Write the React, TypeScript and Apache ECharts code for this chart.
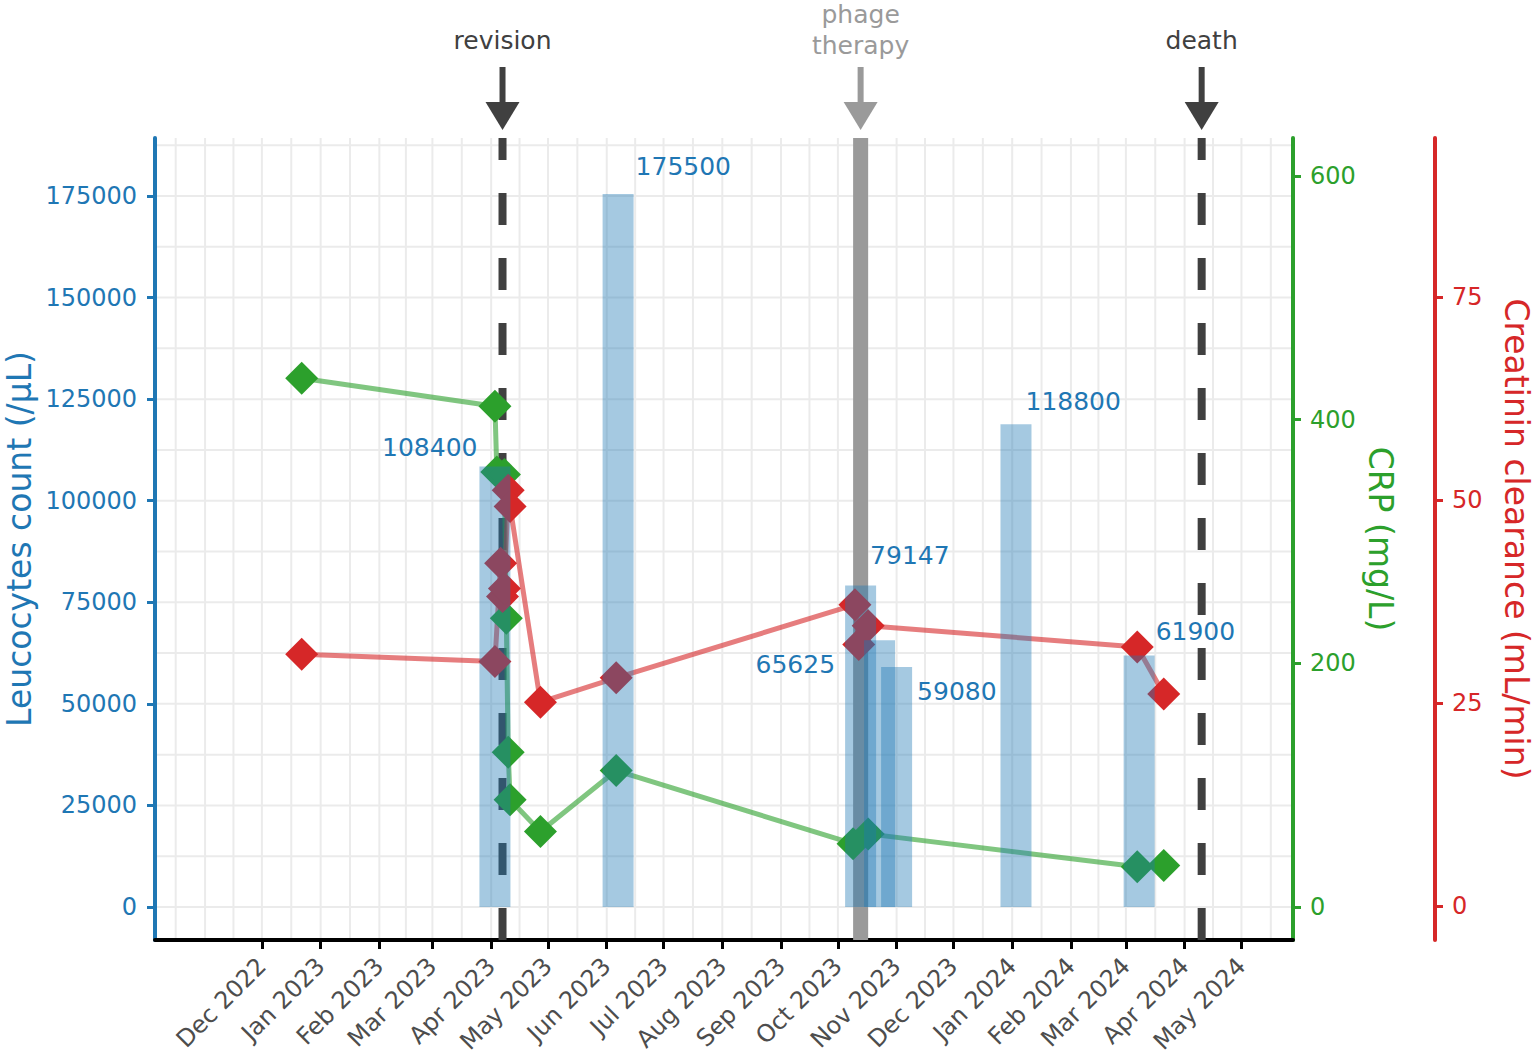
import React, { useEffect, useRef } from 'react';
import * as echarts from 'echarts';

// ---------- data ----------
const leucoDates = ['2023-04-03', '2023-06-07', '2023-10-13', '2023-10-23', '2023-11-01', '2024-01-03', '2024-03-08'];
const leucoValues = [108400, 175500, 79147, 65625, 59080, 118800, 61900];

const crpDates = ['2022-12-22', '2023-04-03', '2023-04-04', '2023-04-08', '2023-04-09', '2023-04-10', '2023-04-11', '2023-04-27', '2023-06-06', '2023-10-09', '2023-10-17', '2024-03-07', '2024-03-21'];
const crpValues = [434, 411, 357, 355, 237, 127, 88, 62, 112, 52, 60, 33, 34];

const creatDates = ['2022-12-22', '2023-04-03', '2023-04-06', '2023-04-07', '2023-04-08', '2023-04-10', '2023-04-11', '2023-04-27', '2023-06-06', '2023-10-10', '2023-10-12', '2023-10-17', '2024-03-07', '2024-03-21'];
const creatValues = [31.0, 30.1, 42.2, 38.1, 39.1, 51.2, 49.2, 25.1, 28.1, 37.1, 32.2, 34.5, 31.9, 26.1];

const eventDates = ['2023-04-07', '2023-10-13', '2024-04-10'];
const eventLabels = ['revision', 'phage\ntherapy', 'death'];

const monthTicks = ['2022-12-01', '2023-01-01', '2023-02-01', '2023-03-01', '2023-04-01', '2023-05-01', '2023-06-01', '2023-07-01', '2023-08-01', '2023-09-01', '2023-10-01', '2023-11-01', '2023-12-01', '2024-01-01', '2024-02-01', '2024-03-01', '2024-04-01', '2024-05-01'];
const monthLabels = ['Dec 2022', 'Jan 2023', 'Feb 2023', 'Mar 2023', 'Apr 2023', 'May 2023', 'Jun 2023', 'Jul 2023', 'Aug 2023', 'Sep 2023', 'Oct 2023', 'Nov 2023', 'Dec 2023', 'Jan 2024', 'Feb 2024', 'Mar 2024', 'Apr 2024', 'May 2024'];
const gridMonths = ['2022-10-01', '2022-11-01', ...monthTicks, '2024-06-01'];

const leucoTicks = [0, 25000, 50000, 75000, 100000, 125000, 150000, 175000];
const leucoGrid = [0, 12500, 25000, 37500, 50000, 62500, 75000, 87500, 100000, 112500, 125000, 137500, 150000, 162500, 175000, 187500];
const crpTicks = [0, 200, 400, 600];
const creatTicks = [0, 25, 50, 75];

// ---------- styling (kept apart from data) ----------
const FONT = 'DejaVu Sans';
const BLUE = '#1f77b4';
const GREEN = '#2ca02c';
const RED = '#d62728';
const GRID_COLOR = '#ebebeb';

// label placement per bar: side of bar, and offset from its top corner
const barLabelLayout = [
  { side: 'left', dx: -2, dy: -19 },
  { side: 'right', dx: 2, dy: -27 },
  { side: 'right', dx: -6, dy: -30 },
  { side: 'left', dx: -29, dy: 24 },
  { side: 'right', dx: 5, dy: 25 },
  { side: 'right', dx: -6, dy: -23 },
  { side: 'right', dx: 1, dy: -24 },
];

const eventStyle = [
  { line: '#404040', width: 8, dashed: true, arrow: '#404040', text: '#404040', textDy: -82 },
  { line: '#9a9a9a', width: 15, dashed: false, arrow: '#9a9a9a', text: '#9a9a9a', textDy: -77 },
  { line: '#404040', width: 8, dashed: true, arrow: '#404040', text: '#404040', textDy: -82 },
];

const toMs = (s: string) => {
  const [y, m, d] = s.split('-').map(Number);
  return Date.UTC(y, m - 1, d);
};

const XMIN = Date.UTC(2022, 9, 5, 14);
const XMAX = Date.UTC(2024, 4, 28, 5);
const LMIN = -8122, LMAX = 189273;
const CMIN = -27.1, CMAX = 631.2;
const RMIN = -4.19, RMAX = 94.58;

const tickMs = monthTicks.map(toMs);
const gridMs = gridMonths.map(toMs);
const vGrid: number[] = [];
for (let i = 0; i < gridMs.length; i++) {
  vGrid.push(gridMs[i]);
  if (i + 1 < gridMs.length) vGrid.push((gridMs[i] + gridMs[i + 1]) / 2);
}
const vGridIn = vGrid.filter((v) => v > XMIN && v < XMAX);

function buildOption(): any {
  const hGridSeries = {
    type: 'custom',
    name: 'hgrid',
    silent: true,
    z: 0,
    xAxisIndex: 0,
    yAxisIndex: 0,
    clip: false,
    data: leucoGrid.map((v) => [XMIN, v]),
    renderItem: (params: any, api: any) => {
      const cs = params.coordSys;
      const y = api.coord([api.value(0), api.value(1)])[1];
      return {
        type: 'line',
        shape: { x1: cs.x, y1: y, x2: cs.x + cs.width, y2: y },
        style: { stroke: GRID_COLOR, lineWidth: 2 },
      };
    },
  };
  const vGridSeries = {
    type: 'custom',
    name: 'vgrid',
    silent: true,
    z: 0,
    xAxisIndex: 0,
    yAxisIndex: 0,
    clip: false,
    data: vGridIn.map((v) => [v, 0]),
    renderItem: (params: any, api: any) => {
      const cs = params.coordSys;
      const x = api.coord([api.value(0), 0])[0];
      return {
        type: 'line',
        shape: { x1: x, y1: cs.y, x2: x, y2: cs.y + cs.height - 2 },
        style: { stroke: GRID_COLOR, lineWidth: 2 },
      };
    },
  };
  const eventSeries = {
    type: 'custom',
    name: 'events',
    silent: true,
    z: 1,
    xAxisIndex: 0,
    yAxisIndex: 0,
    clip: false,
    data: eventDates.map((d) => [toMs(d), 0]),
    renderItem: (params: any, api: any) => {
      const i = params.dataIndex;
      const st = eventStyle[i];
      const cs = params.coordSys;
      const x = api.coord([api.value(0), 0])[0];
      const top = cs.y;
      const bottom = cs.y + cs.height;
      return {
        type: 'group',
        children: [
          {
            type: 'line',
            shape: { x1: x, y1: bottom, x2: x, y2: top },
            style: { stroke: st.line, lineWidth: st.width, lineDash: st.dashed ? [32, 33] : null },
          },
          {
            type: 'line',
            shape: { x1: x, y1: top - 71, x2: x, y2: top - 30 },
            style: { stroke: st.arrow, lineWidth: 6 },
          },
          {
            type: 'polygon',
            shape: { points: [[x - 17, top - 36], [x + 17, top - 36], [x, top - 8]] },
            style: { fill: st.arrow },
          },
          {
            type: 'text',
            x: x,
            y: top + st.textDy,
            style: {
              text: eventLabels[i],
              fill: st.text,
              fontSize: 25,
              fontFamily: FONT,
              align: 'center',
              verticalAlign: 'bottom',
              lineHeight: 31,
            },
          },
        ],
      };
    },
  };

  const lineSeries = (name: string, dates: string[], values: number[], color: string, yIdx: number) => ({
    type: 'line',
    name,
    silent: true,
    z: 3,
    xAxisIndex: 0,
    yAxisIndex: yIdx,
    data: dates.map((d, i) => [toMs(d), values[i]]),
    symbol: 'diamond',
    symbolSize: 33,
    showAllSymbol: true,
    clip: false,
    lineStyle: { color, width: 5, opacity: 0.6 },
    itemStyle: { color, opacity: 1 },
  });

  const barSeries = {
    type: 'bar',
    name: 'Leucocytes',
    silent: true,
    z: 6,
    xAxisIndex: 0,
    yAxisIndex: 0,
    barWidth: 31,
    itemStyle: { color: 'rgba(31,119,180,0.4)' },
    data: leucoDates.map((d, i) => {
      const lay = barLabelLayout[i];
      return {
        value: [toMs(d), leucoValues[i]],
        label: {
          show: true,
          position: lay.side === 'left' ? [0, 0] : ['100%', 0],
          align: lay.side === 'left' ? 'right' : 'left',
          verticalAlign: 'middle',
          offset: [lay.dx, lay.dy],
          formatter: String(leucoValues[i]),
          color: BLUE,
          fontSize: 25,
          fontFamily: FONT,
        },
      };
    }),
  };

  const yAxisCommon = (color: string) => ({
    type: 'value',
    splitLine: { show: false },
    minorTick: { show: false },
    minorSplitLine: { show: false },
    nameMoveOverlap: false,
    axisLine: { show: true, onZero: false, lineStyle: { color, width: 4 } },
  });

  const plain = (v: number) => String(v);

  return {
    animation: false,
    backgroundColor: '#ffffff',
    grid: { left: 155, right: 242, top: 138, bottom: 124, containLabel: false, outerBoundsMode: 'none' },
    xAxis: {
      type: 'value',
      min: XMIN,
      max: XMAX,
      splitLine: { show: false },
      minorTick: { show: false },
      axisLine: { show: true, onZero: false, lineStyle: { color: '#000000', width: 4 } },
      axisTick: { show: true, customValues: tickMs, length: 9, lineStyle: { color: '#000000', width: 3 } },
      axisLabel: {
        customValues: tickMs,
        rotate: 45,
        margin: 22,
        color: '#4d4d4d',
        fontSize: 24,
        fontFamily: FONT,
        formatter: (v: number) => {
          const idx = tickMs.indexOf(v);
          return idx >= 0 ? monthLabels[idx] : '';
        },
      },
    },
    yAxis: [
      {
        ...yAxisCommon(BLUE),
        position: 'left',
        min: LMIN,
        max: LMAX,
        axisTick: { show: true, customValues: leucoTicks, length: 8, lineStyle: { color: BLUE, width: 3 } },
        axisLabel: { customValues: leucoTicks, formatter: plain, color: BLUE, fontSize: 24, fontFamily: FONT, margin: 18 },
        name: 'Leucocytes count (/µL)',
        nameLocation: 'middle',
        nameRotate: 90,
        nameGap: 119,
        nameTextStyle: { color: BLUE, fontSize: 33, fontFamily: FONT },
      },
      {
        ...yAxisCommon(GREEN),
        position: 'right',
        offset: 0,
        min: CMIN,
        max: CMAX,
        axisTick: { show: true, customValues: crpTicks, length: 8, lineStyle: { color: GREEN, width: 3 } },
        axisLabel: { customValues: crpTicks, formatter: plain, color: GREEN, fontSize: 24, fontFamily: FONT, margin: 17 },
        name: 'CRP (mg/L)',
        nameLocation: 'middle',
        nameRotate: -90,
        nameGap: 71,
        nameTextStyle: { color: GREEN, fontSize: 33, fontFamily: FONT },
      },
      {
        ...yAxisCommon(RED),
        position: 'right',
        offset: 142,
        min: RMIN,
        max: RMAX,
        axisTick: { show: true, customValues: creatTicks, length: 8, lineStyle: { color: RED, width: 3 } },
        axisLabel: { customValues: creatTicks, formatter: plain, color: RED, fontSize: 24, fontFamily: FONT, margin: 17 },
        name: 'Creatinin clearance (mL/min)',
        nameLocation: 'middle',
        nameRotate: -90,
        nameGap: 65,
        nameTextStyle: { color: RED, fontSize: 33, fontFamily: FONT },
      },
    ],
    series: [
      hGridSeries,
      vGridSeries,
      eventSeries,
      lineSeries('CRP', crpDates, crpValues, GREEN, 1),
      lineSeries('Creatinin clearance', creatDates, creatValues, RED, 2),
      barSeries,
    ],
  };
}

export default function App() {
  const ref = useRef<HTMLDivElement>(null);
  useEffect(() => {
    if (!ref.current) return;
    const chart = echarts.init(ref.current, null, { renderer: 'svg' });
    chart.setOption(buildOption());
    return () => chart.dispose();
  }, []);
  return (
    <div
      ref={ref}
      style={{ position: 'fixed', left: 0, top: 0, width: 1535, height: 1064, background: '#ffffff' }}
    />
  );
}
